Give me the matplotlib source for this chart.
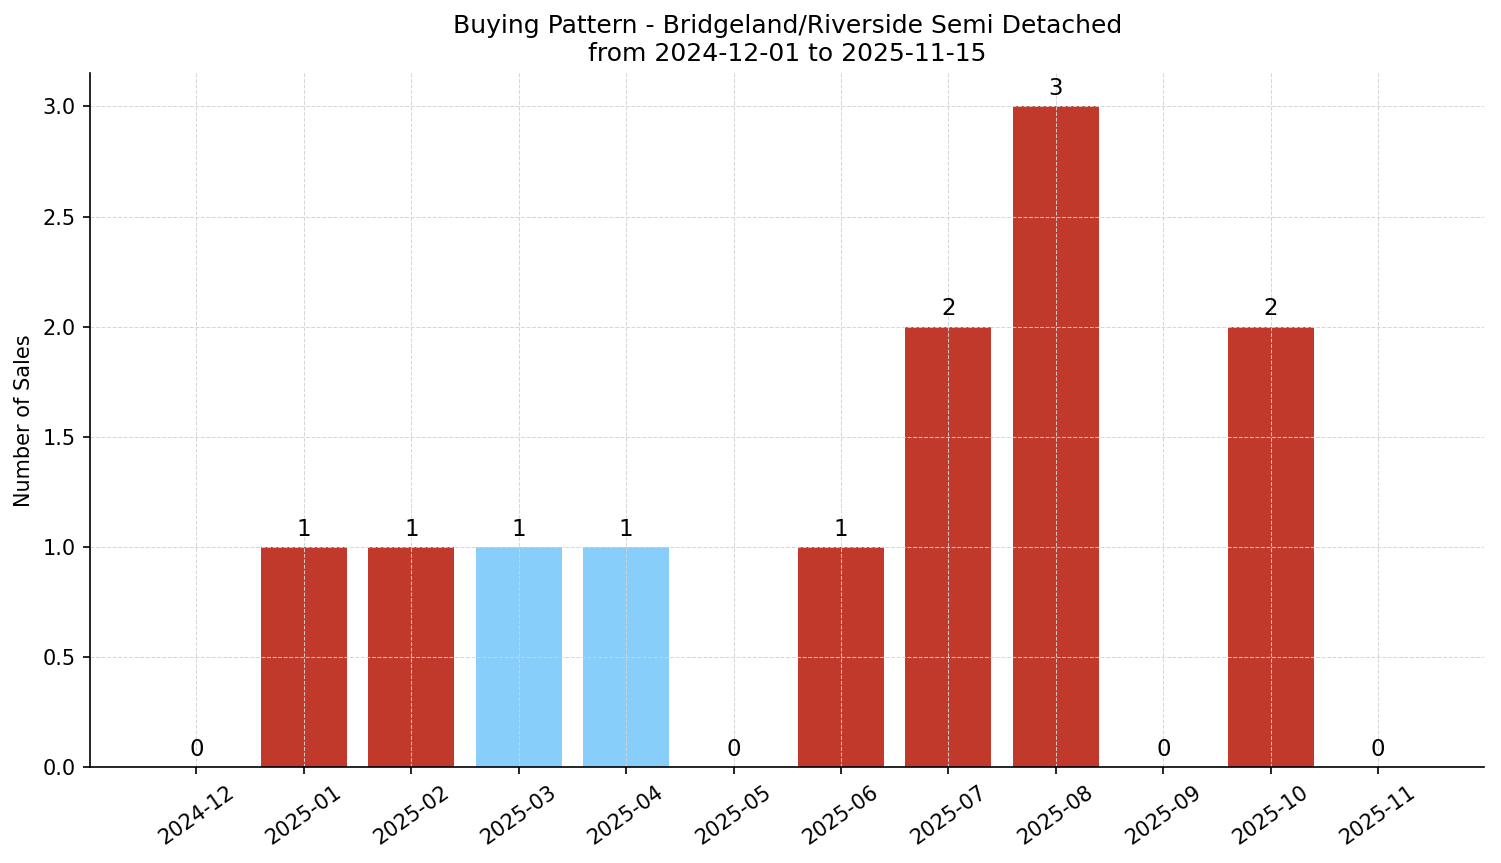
import matplotlib
matplotlib.use("Agg")
import matplotlib.pyplot as plt

months = ["2024-12", "2025-01", "2025-02", "2025-03", "2025-04", "2025-05",
          "2025-06", "2025-07", "2025-08", "2025-09", "2025-10", "2025-11"]
sales = [0, 1, 1, 1, 1, 0, 1, 2, 3, 0, 2, 0]
highlight = [False, False, False, True, True, False, False, False, False, False, False, False]

colors = ["#87cefa" if h else "#c0392b" for h in highlight]

fig, ax = plt.subplots(figsize=(1501 / 150, 863 / 150), dpi=150)
x = range(len(months))
bars = ax.bar(x, sales, color=colors, width=0.8)

for b, v in zip(bars, sales):
    ax.annotate(str(v), (b.get_x() + b.get_width() / 2, v),
                xytext=(0, 3), textcoords="offset points",
                ha="center", va="bottom", fontsize=11)

ax.set_xticks(list(x))
ax.set_xticklabels(months, rotation=35)
ax.set_ylabel("Number of Sales")
ax.set_title("Buying Pattern - Bridgeland/Riverside Semi Detached\nfrom 2024-12-01 to 2025-11-15",
             fontsize=12)
ax.grid(True, linestyle="--", color="lightgray", alpha=0.9, linewidth=0.5)
ax.spines["top"].set_visible(False)
ax.spines["right"].set_visible(False)

fig.subplots_adjust(left=0.06, right=0.989, top=0.915, bottom=0.111)
fig.savefig("out.png")
